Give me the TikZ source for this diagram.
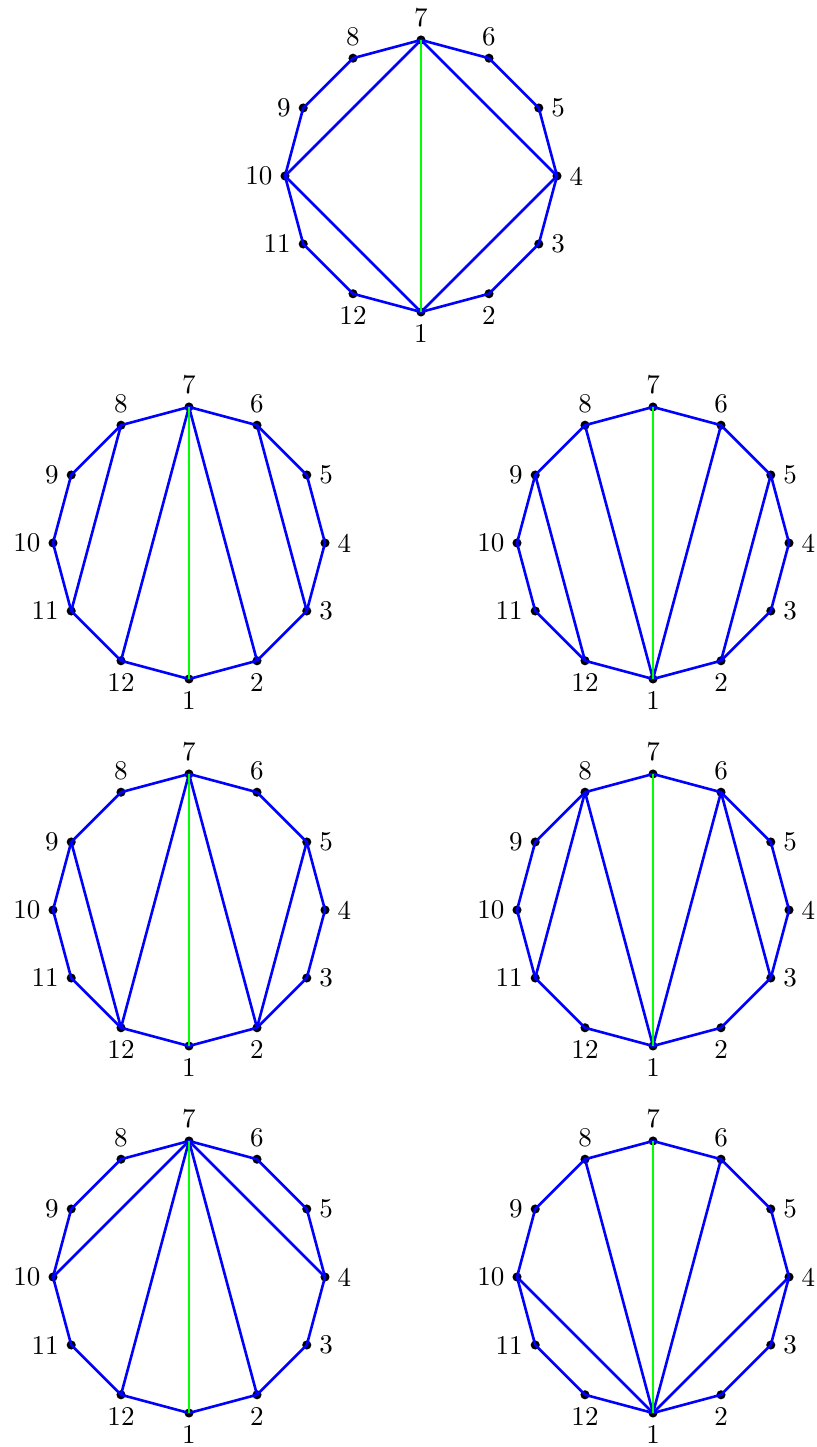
\documentclass[tikz,border=0pt]{standalone}
\usetikzlibrary{calc}
\tikzset{
 vdot/.style={circle, fill=black, inner sep=0pt, minimum size=3.5pt},
 edge/.style={draw=blue, line width=1pt, line join=round},
 axisline/.style={draw=green, line width=0.45pt},
 lab/.style={inner sep=3.33pt, font=\fontsize{10.4}{12}\selectfont}
}
\newcommand\mydodec[3]{%
 \coordinate (#1-c) at (#2);
 \foreach \k/\p in {1/below,2/below,3/right,4/right,5/right,6/above,7/above,8/above,9/left,10/left,11/left,12/below}{
   \pgfmathsetmacro\ang{-90+30*(\k-1)}
   \node[vdot] (#1-\k) at ($(#1-c)+(\ang:136)$) {};
   \node[lab,\p=1.3pt] (#1-l\k) at (#1-\k.center) {\k};
 }
 \draw[edge] (#1-1.center) \foreach \k in {2,...,12}{ -- (#1-\k.center)} -- cycle;
 \foreach \a/\b in {#3} \draw[edge] (#1-\a.center) -- (#1-\b.center);
 \draw[axisline] (#1-7.center) -- (#1-1.center);
}
\begin{document}
\begin{tikzpicture}[x=0.3846pt,y=0.3846pt]
\useasboundingbox (0,0) rectangle (817,1447);
\mydodec{A}{421,1271}{7/10,10/1,1/4,4/7}
\mydodec{B}{189,904}{8/11,7/12,7/2,6/3}
\mydodec{C}{653,904}{9/12,8/1,6/1,5/2}
\mydodec{D}{189,537}{9/12,12/7,7/2,2/5}
\mydodec{E}{653,537}{8/11,8/1,1/6,6/3}
\mydodec{F}{189,170}{10/7,12/7,7/2,7/4}
\mydodec{G}{653,170}{10/1,8/1,1/6,1/4}
\end{tikzpicture}
\end{document}
